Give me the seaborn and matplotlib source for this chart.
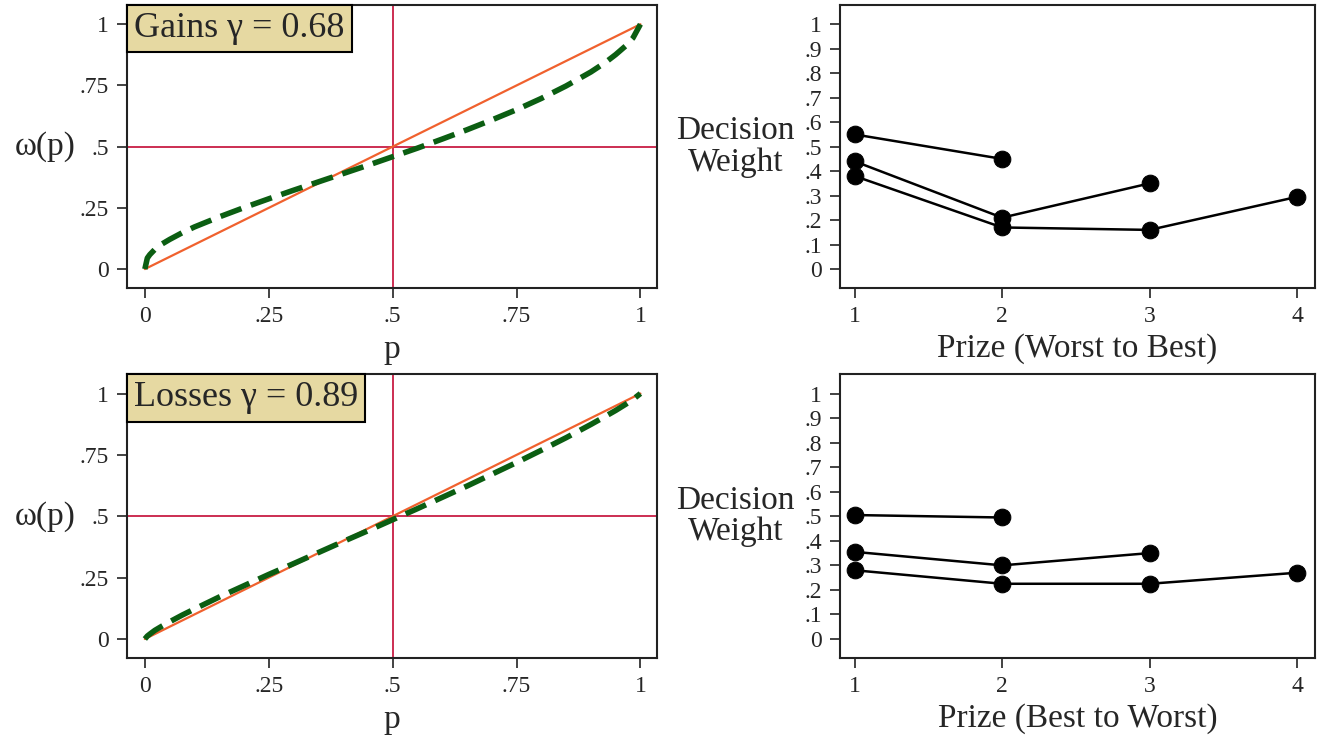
import matplotlib
matplotlib.use('Agg')
import matplotlib.pyplot as plt
import pandas as pd
import seaborn as sns

# probability grid and weighting curves
p_grid = [0, .005, .01, .02, .035, .05, .075, .1, .15, .2, .25, .3, .35, .4, .45, .5,
          .55, .6, .65, .7, .75, .8, .85, .9, .93, .95, .97, .985, 1]
w_gains = [0, .045, .059, .080, .103, .121, .148, .172, .213, .251, .287, .322, .356, .390, .424, .459,
           .494, .531, .569, .609, .651, .697, .748, .805, .845, .876, .911, .944, 1.0]
w_losses = [0, .012, .020, .035, .053, .070, .097, .122, .171, .217, .263, .307, .352, .397, .441, .486,
            .531, .577, .623, .671, .719, .769, .820, .874, .908, .931, .956, .976, 1.0]
diag = [0, 1]

# decision weights by prize (series keyed by number of prizes)
prizes = {2: [1, 2], 3: [1, 2, 3], 4: [1, 2, 3, 4]}
dw_worst_best = {2: [.55, .45], 3: [.44, .21, .35], 4: [.38, .17, .16, .295]}
dw_best_worst = {2: [.505, .495], 3: [.355, .30, .35], 4: [.28, .225, .225, .27]}

left_labels = ['Gains \u03b3 = 0.68', 'Losses \u03b3 = 0.89']
right_xlabels = ['Prize (Worst to Best)', 'Prize (Best to Worst)']


def long_df(d):
    rows = []
    for n, vals in d.items():
        for x, v in zip(prizes[n], vals):
            rows.append({'prize': x, 'weight': v, 'n': n})
    return pd.DataFrame(rows)


sns.set_style('ticks')
plt.rcParams['font.family'] = ['Liberation Serif', 'DejaVu Serif']
plt.rcParams['axes.linewidth'] = 1.5

fig = plt.figure(figsize=(13.19, 7.37), dpi=100)
axes_left = [fig.add_axes([0.0963, 0.609, 0.402, 0.384]), fig.add_axes([0.0963, 0.107, 0.402, 0.385])]
axes_right = [fig.add_axes([0.6368, 0.609, 0.360, 0.384]), fig.add_axes([0.6368, 0.107, 0.360, 0.385])]

green = '#0b5e12'
orange = '#f0612e'
crimson = '#cc2d52'

for ax, w, lab in zip(axes_left, [w_gains, w_losses], left_labels):
    ax.axvline(0.5, color=crimson, lw=1.4, zorder=1)
    ax.axhline(0.5, color=crimson, lw=1.4, zorder=1)
    sns.lineplot(x=diag, y=diag, color=orange, lw=1.6, ax=ax, zorder=2)
    sns.lineplot(x=p_grid, y=w, color=green, lw=4, linestyle=(0, (4, 1.8)), ax=ax, zorder=3)
    ax.set_xlim(-0.036, 1.034)
    ax.set_ylim(-0.078, 1.078)
    ax.set_xticks([0, .25, .5, .75, 1])
    ax.set_xticklabels(['0', '.25', '.5', '.75', '1'])
    ax.set_yticks([0, .25, .5, .75, 1])
    ax.set_yticklabels(['0', '.25', '.5', '.75', '1'])
    ax.set_xlabel('p', fontsize=24)
    ax.xaxis.set_label_coords(0.5, -0.165)
    ax.set_ylabel('\u03c9(p)', fontsize=24, rotation=0, ha='center', va='center')
    ax.yaxis.set_label_coords(-0.155, 0.5)
    ax.annotate(lab, xy=(0, 1), xycoords='axes fraction', xytext=(5, -5), textcoords='offset points',
                ha='left', va='top', fontsize=26,
                bbox=dict(boxstyle='square,pad=0.2', fc='#e6d9a2', ec='black', lw=1.5))

for ax, d, lab in zip(axes_right, [dw_worst_best, dw_best_worst], right_xlabels):
    df = long_df(d)
    sns.lineplot(data=df, x='prize', y='weight', hue='n', palette={2: 'black', 3: 'black', 4: 'black'},
                 marker='o', markersize=12, markeredgecolor='black', lw=1.8, legend=False, ax=ax)
    ax.set_xlim(0.9, 4.12)
    ax.set_ylim(-0.078, 1.078)
    ax.set_xticks([1, 2, 3, 4])
    ax.set_xticklabels(['1', '2', '3', '4'])
    yt = [0, .1, .2, .3, .4, .5, .6, .7, .8, .9, 1]
    ax.set_yticks(yt)
    ax.set_yticklabels(['0', '.1', '.2', '.3', '.4', '.5', '.6', '.7', '.8', '.9', '1'])
    ax.set_xlabel(lab, fontsize=24)
    ax.xaxis.set_label_coords(0.5, -0.16)
    ax.set_ylabel('Decision\nWeight', fontsize=24, rotation=0, ha='center', va='center', linespacing=1.05)
    ax.yaxis.set_label_coords(-0.22, 0.5)

for ax in axes_left + axes_right:
    for s in ax.spines.values():
        s.set_color('#222222')
        s.set_linewidth(1.5)
    ax.tick_params(axis='both', labelsize=17, length=7, width=1.2, color='#222222', pad=6)

fig.savefig('out.png', dpi=100)
